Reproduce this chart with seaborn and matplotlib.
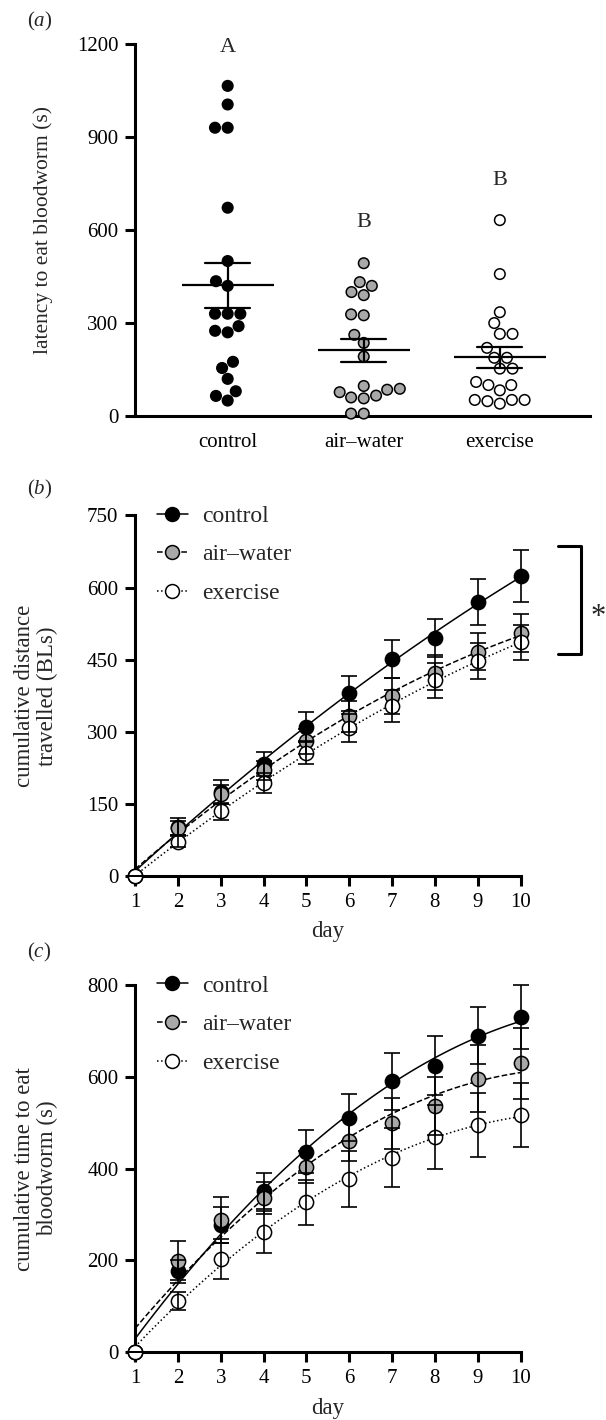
import numpy as np
import pandas as pd
import matplotlib
matplotlib.use('Agg')
import matplotlib.pyplot as plt
from matplotlib.lines import Line2D
import seaborn as sns

# panel (a): latency to eat bloodworm (s)
groups = ['control', 'air\u2013water', 'exercise']
latency_control = [1065, 1005, 930, 930, 672, 500, 435, 420, 330, 330, 330,
                   290, 270, 275, 175, 155, 120, 80, 65, 50]
latency_airwater = [493, 432, 420, 400, 390, 325, 328, 262, 236, 192, 97,
                    85, 88, 60, 77, 57, 66, 8, 8]
latency_exercise = [632, 458, 335, 300, 265, 265, 220, 188, 188, 153, 153,
                    100, 100, 110, 83, 48, 52, 52, 52, 40]
letters = ['A', 'B', 'B']
letter_y = [1190, 625, 760]

# panel (b): cumulative distance travelled (BLs)
days = list(range(1, 11))
dist_control = [0, 103, 175, 233, 311, 380, 451, 495, 570, 624]
dist_control_se = [0, 18, 25, 25, 31, 36, 40, 40, 48, 54]
dist_airwater = [0, 100, 170, 220, 280, 332, 374, 423, 467, 506]
dist_airwater_se = [0, 15, 20, 20, 25, 33, 37, 36, 38, 39]
dist_exercise = [0, 72, 135, 194, 256, 308, 354, 407, 447, 486]
dist_exercise_se = [0, 12, 18, 21, 23, 30, 33, 36, 38, 37]

# panel (c): cumulative time to eat bloodworm (s)
time_control = [0, 176, 277, 351, 437, 511, 591, 625, 690, 731]
time_control_se = [0, 25, 40, 40, 47, 51, 62, 65, 62, 70]
time_airwater = [0, 199, 288, 336, 403, 461, 499, 537, 596, 630]
time_airwater_se = [0, 43, 50, 35, 35, 45, 55, 63, 73, 77]
time_exercise = [0, 111, 203, 262, 327, 378, 424, 469, 495, 517]
time_exercise_se = [0, 20, 44, 46, 49, 61, 65, 69, 70, 69]

# significance bracket in (b)
bracket_y = [462, 686]
star_y = 522

fills = ['black', '#a8a8a8', 'white']
styles = ['-', '--', ':']

sns.set_style('ticks')
plt.rcParams['font.family'] = ['Liberation Serif', 'DejaVu Serif']
plt.rcParams['mathtext.fontset'] = 'custom'
plt.rcParams['mathtext.rm'] = 'Liberation Serif'
plt.rcParams['mathtext.it'] = 'Liberation Serif:italic'
TICK = 15
LAB = 16.5


def style_axes(ax):
    sns.despine(ax=ax)
    for s in ['left', 'bottom']:
        ax.spines[s].set_linewidth(2.2)
        ax.spines[s].set_color('black')
    ax.tick_params(axis='both', which='major', direction='out', length=7,
                   width=2.2, pad=5, color='black', labelsize=TICK, labelcolor='black')


fig = plt.figure(figsize=(6.06, 14.2), dpi=100)

# ---------------- (a)
ax = fig.add_axes([0.223, 0.707, 0.75, 0.262])
df = pd.DataFrame({
    'group': [groups[0]] * len(latency_control) + [groups[1]] * len(latency_airwater)
             + [groups[2]] * len(latency_exercise),
    'latency': latency_control + latency_airwater + latency_exercise,
})
sns.swarmplot(data=df, x='group', y='latency', hue='group', palette=fills,
              size=7.6, edgecolor='black', linewidth=1.1, legend=False, ax=ax, zorder=3)
for c in ax.collections:
    c.set_clip_on(False)
sns.pointplot(data=df, x='group', y='latency', errorbar='se', color='black',
              marker='_', markersize=66, markeredgewidth=1.6, linestyle='none',
              capsize=0.33, err_kws={'linewidth': 1.6}, ax=ax, zorder=5)
for ln in ax.lines:
    ln.set_zorder(5)
    ln.set_clip_on(False)
for i, (t, yv) in enumerate(zip(letters, letter_y)):
    ax.text(i, yv, t, ha='center', va='center', fontsize=16)
ax.set_ylim(0, 1200)
ax.set_yticks([0, 300, 600, 900, 1200])
ax.set_xlim(-0.68, 2.66)
ax.set_xlabel('')
ax.set_ylabel('latency to eat bloodworm (s)', fontsize=15.5)
style_axes(ax)
ax.tick_params(axis='x', length=0, pad=12)
ax.yaxis.set_label_coords(-0.181, 0.5)
fig.text(0.045, 0.985, r'($\mathit{a}$)', fontsize=15, ha='left', va='center')


def cumulative_panel(ax, series, ses, ylim, yticks, ylabel):
    for vals, se, fc, ls in zip(series, ses, fills, styles):
        sns.regplot(x=days, y=vals, order=2, ci=None, scatter=False, truncate=True,
                    color='black', line_kws={'linestyle': ls, 'linewidth': 1.1}, ax=ax)
    for vals, se, fc, ls in zip(series, ses, fills, styles):
        sns.scatterplot(x=days, y=vals, color=fc, edgecolor='black', linewidth=1.1,
                        s=105, ax=ax, zorder=3, clip_on=False, legend=False)
        ax.errorbar(days, vals, yerr=se, fmt='none', ecolor='black', elinewidth=1.2,
                    capsize=5.5, capthick=1.2, zorder=4, clip_on=False)
    for ln in ax.lines:
        ln.set_clip_on(False)
    ax.set_xlim(1, 10)
    ax.set_xticks(days)
    ax.set_ylim(*ylim)
    ax.set_yticks(yticks)
    ax.set_xlabel('day', fontsize=LAB)
    ax.set_ylabel(ylabel, fontsize=LAB, linespacing=1.1)
    style_axes(ax)
    ax.yaxis.set_label_coords(-0.2, 0.5)
    ax.xaxis.set_label_coords(0.5, -0.125)
    handles = [Line2D([], [], color='black', linestyle=ls, linewidth=1.1, marker='o',
                      markerfacecolor=fc, markeredgecolor='black', markeredgewidth=1.1,
                      markersize=10)
               for fc, ls in zip(fills, styles)]
    ax.legend(handles, groups, loc='upper left', bbox_to_anchor=(0.057, 1.028),
              frameon=False, fontsize=17, handlelength=1.3, handletextpad=0.6,
              labelspacing=0.72, borderaxespad=0, borderpad=0)


# ---------------- (b)
ax = fig.add_axes([0.223, 0.383, 0.636, 0.254])
cumulative_panel(ax, [dist_control, dist_airwater, dist_exercise],
                 [dist_control_se, dist_airwater_se, dist_exercise_se],
                 (0, 750), [0, 150, 300, 450, 600, 750],
                 'cumulative distance\ntravelled (BLs)')
ax.plot([10.87, 11.42, 11.42, 10.87], [bracket_y[1], bracket_y[1], bracket_y[0], bracket_y[0]],
        color='black', linewidth=2.2, clip_on=False)
ax.text(11.82, star_y, '*', fontsize=22, ha='center', va='baseline')
fig.text(0.045, 0.655, r'($\mathit{b}$)', fontsize=15, ha='left', va='center')

# ---------------- (c)
ax = fig.add_axes([0.223, 0.048, 0.636, 0.258])
cumulative_panel(ax, [time_control, time_airwater, time_exercise],
                 [time_control_se, time_airwater_se, time_exercise_se],
                 (0, 800), [0, 200, 400, 600, 800],
                 'cumulative time to eat\nbloodworm (s)')
fig.text(0.045, 0.329, r'($\mathit{c}$)', fontsize=15, ha='left', va='center')

fig.savefig('out.png', dpi=100)
